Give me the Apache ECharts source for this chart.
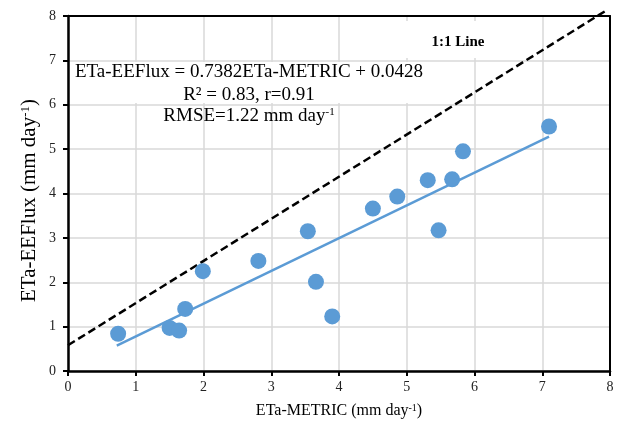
<!DOCTYPE html>
<html>
<head>
<meta charset="utf-8">
<script src="https://cdn.jsdelivr.net/npm/echarts@6/dist/echarts.min.js"></script>
<style>
  html, body { margin: 0; padding: 0; background: #fff; }
  #chart { width: 621px; height: 433px; }
</style>
</head>
<body>
<div id="chart"></div>
<script>
// ETa values (mm/day)
const metric = [0.74, 1.50, 1.64, 1.73, 1.99, 2.81, 3.54, 3.66, 3.90, 4.50, 4.86, 5.31, 5.47, 5.67, 5.83, 7.10];
const eeflux = [0.84, 0.97, 0.91, 1.40, 2.25, 2.48, 3.15, 2.01, 1.23, 3.66, 3.93, 4.30, 3.17, 4.32, 4.95, 5.51];

// end points of the fitted line and the dashed reference line
const trendLine = [[0.72, 0.57], [7.10, 5.28]];
const refLine = [[0, 0.58], [7.95, 8.13]];

const axisTicks = [0, 1, 2, 3, 4, 5, 6, 7, 8];

const serif = "'Liberation Serif', 'Times New Roman', serif";
const blue = "#5B9BD5";

const points = metric.map((x, i) => [x, eeflux[i]]);

const chart = echarts.init(document.getElementById("chart"));

const nameStyle = (size, supSize) => ({
  fontFamily: serif,
  fontSize: size,
  color: "#000",
  rich: {
    sup: { fontFamily: serif, fontSize: supSize, color: "#000", verticalAlign: "top", lineHeight: 10 },
  },
});

const axisCommon = {
  type: "value",
  min: axisTicks[0],
  max: axisTicks[axisTicks.length - 1],
  interval: 1,
  nameLocation: "middle",
  nameMoveOverlap: false,
  axisLine: { show: true, onZero: false, lineStyle: { color: "#000", width: 2.5 } },
  axisTick: { show: true, length: 5, lineStyle: { color: "#000", width: 2 } },
  axisLabel: { fontFamily: serif, fontSize: 14, color: "#222" },
  splitLine: { show: true, lineStyle: { color: "#d9d9d9", width: 1.5 } },
};

// plain frame lines for the top and right edges
const frameAxis = {
  type: "value",
  min: axisTicks[0],
  max: axisTicks[axisTicks.length - 1],
  axisLine: { show: true, onZero: false, lineStyle: { color: "#000", width: 2 } },
  axisTick: { show: false },
  axisLabel: { show: false },
  splitLine: { show: false },
};

const option = {
  animation: false,
  grid: { left: 68, right: 11, top: 16, bottom: 62 },
  xAxis: [
    {
      ...axisCommon,
      name: "ETa-METRIC (mm day{sup|-1})",
      nameGap: 32,
      nameTextStyle: nameStyle(16, 10),
      axisLabel: { ...axisCommon.axisLabel, margin: 9 },
    },
    { ...frameAxis, position: "top" },
  ],
  yAxis: [
    {
      ...axisCommon,
      name: "ETa-EEFlux (mm day{sup|-1})",
      nameGap: 28,
      nameTextStyle: { ...nameStyle(21, 13), padding: [0, 14, 0, 0] },
      axisLabel: { ...axisCommon.axisLabel, margin: 12 },
    },
    { ...frameAxis, position: "right" },
  ],
  series: [
    {
      type: "line",
      data: refLine,
      symbol: "none",
      clip: false,
      lineStyle: { color: "#000", width: 2.5, type: [8, 4] },
      z: 3,
    },
    {
      type: "line",
      data: trendLine,
      symbol: "none",
      lineStyle: { color: blue, width: 2.5 },
      z: 3,
    },
    {
      type: "scatter",
      data: points,
      symbolSize: 16,
      itemStyle: { color: blue, opacity: 1 },
      z: 4,
    },
  ],
  graphic: [
    { type: "rect", shape: { x: 75, y: 62, width: 350, height: 41 }, style: { fill: "#fff" }, z: 10 },
    { type: "rect", shape: { x: 402, y: 21, width: 114, height: 37 }, style: { fill: "#fff" }, z: 10 },
    {
      type: "text", x: 458, y: 42, z: 11,
      style: { text: "1:1 Line", font: "bold 15px " + serif, fill: "#000", align: "center", verticalAlign: "middle" },
    },
    {
      type: "text", x: 249, y: 72, z: 11,
      style: { text: "ETa-EEFlux = 0.7382ETa-METRIC + 0.0428", font: "19px " + serif, fill: "#000", align: "center", verticalAlign: "middle" },
    },
    {
      type: "text", x: 249, y: 95, z: 11,
      style: { text: "R² = 0.83, r=0.91", font: "19px " + serif, fill: "#000", align: "center", verticalAlign: "middle" },
    },
    {
      type: "text", x: 249, y: 116, z: 11,
      style: {
        text: "RMSE=1.22 mm day{sup|-1}",
        font: "19px " + serif, fill: "#000", align: "center", verticalAlign: "middle",
        rich: { sup: { font: "11px " + serif, fill: "#000", verticalAlign: "top", lineHeight: 10 } },
      },
    },
  ],
};

chart.setOption(option);
</script>
</body>
</html>
